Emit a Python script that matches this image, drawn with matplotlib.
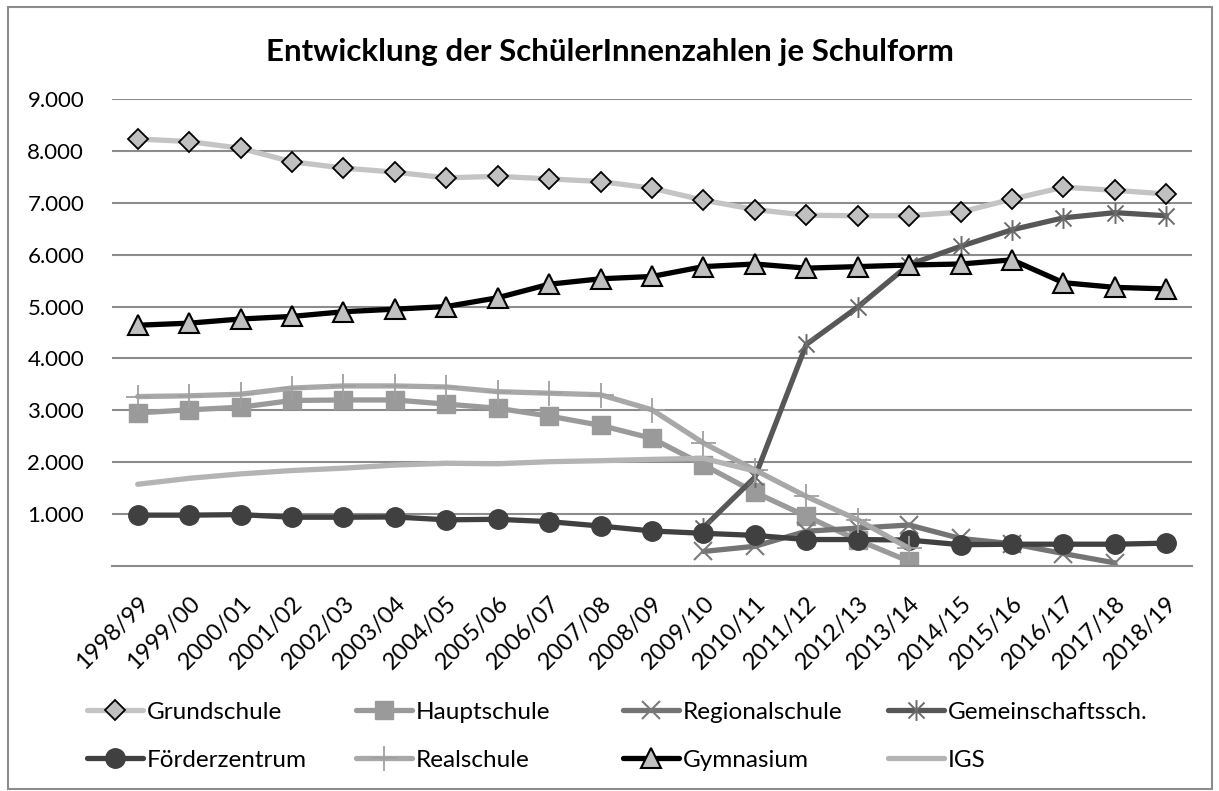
import numpy as np
import matplotlib
matplotlib.use("Agg")
import matplotlib.pyplot as plt
from matplotlib.path import Path
from matplotlib.patches import Rectangle
from matplotlib.ticker import FuncFormatter

# données (nan = pas de valeur)
nan = np.nan
jahre = ["1998/99", "1999/00", "2000/01", "2001/02", "2002/03", "2003/04", "2004/05",
         "2005/06", "2006/07", "2007/08", "2008/09", "2009/10", "2010/11", "2011/12",
         "2012/13", "2013/14", "2014/15", "2015/16", "2016/17", "2017/18", "2018/19"]

grundschule = [8230, 8180, 8050, 7790, 7670, 7590, 7480, 7510, 7460, 7410, 7280,
               7050, 6870, 6760, 6750, 6750, 6820, 7070, 7300, 7240, 7170]
hauptschule = [2950, 3010, 3060, 3190, 3200, 3200, 3120, 3040, 2890, 2710, 2460,
               1950, 1420, 960, 500, 90, nan, nan, nan, nan, nan]
regionalschule = [nan, nan, nan, nan, nan, nan, nan, nan, nan, nan, nan,
                  280, 380, 670, 730, 790, 530, 430, 240, 60, nan]
gemeinschaftsschule = [nan, nan, nan, nan, nan, nan, nan, nan, nan, nan, nan,
                       740, 1710, 4270, 4990, 5810, 6160, 6480, 6710, 6810, 6750]
foerderzentrum = [980, 980, 990, 940, 940, 945, 890, 900, 855, 770, 675,
                  630, 590, 510, 510, 500, 410, 420, 420, 420, 440]
realschule = [3265, 3280, 3310, 3430, 3470, 3470, 3450, 3360, 3330, 3300, 3010,
              2370, 1850, 1340, 890, 340, nan, nan, nan, nan, nan]
gymnasium = [4640, 4680, 4760, 4810, 4900, 4950, 5000, 5170, 5430, 5535, 5580,
             5770, 5820, 5740, 5770, 5800, 5820, 5900, 5460, 5370, 5340]
igs = [1575, 1690, 1775, 1840, 1885, 1945, 1980, 1970, 2010, 2030, 2055,
       2075, 1830, nan, nan, nan, nan, nan, nan, nan, nan]

# marqueur étoile façon Excel (x + trait vertical)
stern = Path([(-1, -1), (1, 1), (-1, 1), (1, -1), (0, -1.3), (0, 1.3)],
             [Path.MOVETO, Path.LINETO, Path.MOVETO, Path.LINETO, Path.MOVETO, Path.LINETO])

plt.rcParams['font.family'] = ['Lato', 'DejaVu Sans']

W, H = 1219, 791
fig = plt.figure(figsize=(W / 100, H / 100), dpi=100)
ax = fig.add_axes([112 / W, 1 - 566 / H, 1080 / W, 467 / H])

x = np.arange(len(jahre))
lw = 3.8
series = [
    ("Grundschule", grundschule, dict(color="#c4c4c4", marker="D", ms=10.5, mfc="#c0c0c0", mec="black", mew=1.3)),
    ("Hauptschule", hauptschule, dict(color="#9a9a9a", marker="s", ms=13, mfc="#9a9a9a", mec="#9a9a9a")),
    ("Regionalschule", regionalschule, dict(color="#747474", marker="x", ms=13, mec="#7a7a7a", mew=1.5)),
    ("Gemeinschaftssch.", gemeinschaftsschule, dict(color="#575757", marker=stern, ms=15, mec="#6a6a6a", mew=1.4)),
    ("Förderzentrum", foerderzentrum, dict(color="#404040", marker="o", ms=14, mfc="#404040", mec="#404040")),
    ("Realschule", realschule, dict(color="#a8a8a8", marker="+", ms=18, mec="#a0a0a0", mew=1.3)),
    ("Gymnasium", gymnasium, dict(color="black", marker="^", ms=15, mfc="#c0c0c0", mec="black", mew=1.5)),
    ("IGS", igs, dict(color="#b4b4b4")),
]

handles = []
for name, vals, style in series:
    h, = ax.plot(x, vals, lw=lw, label=name, solid_capstyle="round",
                 solid_joinstyle="round", **style)
    handles.append(h)

ax.set_xlim(-0.5, len(jahre) - 0.5)
ax.set_ylim(0, 9000)
ax.set_yticks(range(1000, 9001, 1000))
ax.yaxis.set_major_formatter(FuncFormatter(lambda v, p: f"{int(v):,}".replace(",", ".")))
ax.grid(axis="y", color="#8c8c8c", lw=1.5)
ax.set_axisbelow(True)
for s in ["top", "right", "left"]:
    ax.spines[s].set_visible(False)
ax.spines["bottom"].set_color("#8c8c8c")
ax.spines["bottom"].set_linewidth(1.5)
ax.tick_params(axis="y", length=0, pad=20, labelsize=16)
ax.tick_params(axis="x", length=0, pad=19, labelsize=17)
ax.set_xticks(x)
ax.set_xticklabels(jahre, rotation=45, ha="right", va="top", rotation_mode="anchor")

fig.text(0.5, 1 - 52 / H, "Entwicklung der SchülerInnenzahlen je Schulform",
         ha="center", va="center", fontsize=22.5, fontweight="bold")

# légende : 2 lignes x 4 colonnes
text_x = [147, 416, 683, 948]
row_y = [712, 760]
for i, h in enumerate(handles):
    r, c = divmod(i, 4)
    fig.legend(handles=[h], loc="center left", frameon=False, fontsize=17.5,
               handlelength=2.3, handletextpad=0.17, borderpad=0, borderaxespad=0,
               numpoints=1,
               bbox_to_anchor=((text_x[c] - 60) / W, 1 - row_y[r] / H))

fig.patches.append(Rectangle((8 / W, 1 - 789 / H), 1204 / W, 782 / H, transform=fig.transFigure,
                             fill=False, edgecolor="#8c8c8c", lw=1.5))

fig.savefig("out.png", dpi=100)
